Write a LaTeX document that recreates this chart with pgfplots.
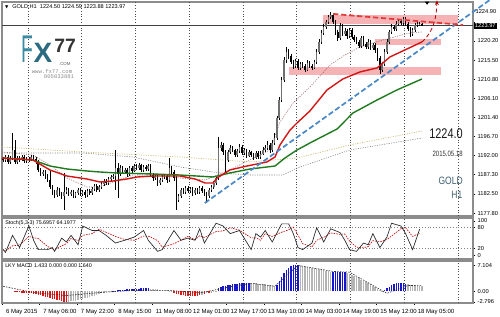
\documentclass[border=0pt]{standalone}
\usepackage{pgfplots}
\pgfplotsset{compat=1.18}
\usepackage{pgfplotstable}
\usepackage{fontspec}
\setmainfont{Liberation Sans}
\newfontfamily\dejavu{DejaVu Sans}
\newfontfamily\lmono{Liberation Mono}
\usetikzlibrary{arrows.meta}

\definecolor{framegray}{HTML}{8C8C8C}
\definecolor{pinkbox}{HTML}{F5B3B6}
\definecolor{maRed}{HTML}{D41515}
\definecolor{maGreen}{HTML}{1F7A1F}
\definecolor{trendBlue}{HTML}{4A88C8}
\definecolor{trendRed}{HTML}{E03A3A}
\definecolor{macdRed}{HTML}{E01515}
\definecolor{macdGray}{HTML}{B4B4B4}
\definecolor{macdBlue}{HTML}{1515D0}
\definecolor{logoTeal}{HTML}{3C8BA3}
\definecolor{logoTealDark}{HTML}{2C6A80}
\definecolor{slate}{HTML}{3E5E6E}
\definecolor{oliveDot}{HTML}{C8BC70}
\definecolor{candleBull}{HTML}{707070}

\pgfplotstableread{
i O C hx lx
0 1191.2 1190.9 0.5 0.5
1 1190.9 1191.6 0.5 0.5
2 1191.6 1190.4 0.6 0.5
3 1190.4 1191.4 0.5 0.6
4 1191.4 1193.3 4.2 0.5
5 1193.3 1190.4 2.5 0.6
6 1190.4 1191.4 0.5 0.5
7 1191.4 1190.9 0.4 0.5
8 1190.9 1191.6 0.5 0.4
9 1191.6 1190.6 0.4 0.5
10 1190.6 1191.1 0.5 0.4
11 1191.1 1190.9 0.5 0.5
12 1190.9 1191.6 0.4 0.4
13 1191.6 1191.1 0.5 0.5
14 1191.1 1190.4 0.4 0.6
15 1190.4 1188.4 0.5 0.6
16 1188.4 1187.4 0.4 0.5
17 1187.4 1187.9 0.5 0.4
18 1187.9 1186.9 0.4 0.6
19 1186.9 1185.9 0.5 0.5
20 1185.9 1184.2 2.5 0.6
21 1184.2 1183.0 0.5 0.7
22 1183.0 1182.2 0.5 0.8
23 1182.2 1183.5 0.6 0.5
24 1183.5 1182.5 0.5 0.6
25 1182.5 1182.0 0.5 0.7
26 1182.0 1183.0 4.7 3.5
27 1183.0 1183.5 0.6 0.5
28 1183.5 1182.5 0.5 0.6
29 1182.5 1183.0 0.5 0.5
30 1183.0 1182.0 0.5 0.6
31 1182.0 1182.7 0.4 0.5
32 1182.7 1183.5 0.5 0.4
33 1183.5 1182.5 0.4 0.5
34 1182.5 1183.0 0.5 0.5
35 1183.0 1182.2 0.4 0.6
36 1182.2 1183.2 0.5 0.4
37 1183.2 1182.7 0.4 0.5
38 1182.7 1183.7 0.5 0.4
39 1183.7 1184.5 0.5 0.4
40 1184.5 1183.5 0.4 0.5
41 1183.5 1184.2 0.5 0.4
42 1184.2 1185.0 0.5 0.4
43 1185.0 1185.7 0.5 0.5
44 1185.7 1185.2 0.4 0.5
45 1185.2 1186.2 0.5 0.4
46 1186.2 1186.7 0.5 0.5
47 1186.7 1186.9 0.5 0.5
48 1186.9 1188.9 4.4 3.4
49 1188.9 1187.4 1.2 5.9
50 1187.4 1188.9 0.7 0.5
51 1188.9 1187.9 0.5 0.6
52 1187.9 1188.4 0.5 0.5
53 1188.4 1187.4 0.4 0.6
54 1187.4 1188.9 0.6 0.4
55 1188.9 1188.2 0.5 0.5
56 1188.2 1189.4 0.6 0.4
57 1189.4 1188.9 0.4 0.5
58 1188.9 1189.6 0.6 0.4
59 1189.6 1188.4 0.4 0.6
60 1188.4 1189.2 0.5 0.4
61 1189.2 1188.7 0.4 0.5
62 1188.7 1189.4 0.5 0.5
63 1189.4 1187.2 0.4 0.6
64 1187.2 1186.4 0.5 0.6
65 1186.4 1186.9 0.5 0.5
66 1186.9 1185.2 0.4 0.7
67 1185.2 1185.9 0.5 0.5
68 1185.9 1186.7 0.5 0.4
69 1186.7 1186.9 0.5 0.5
70 1186.9 1185.9 0.4 0.6
71 1185.9 1188.9 2.5 0.5
72 1188.9 1187.9 0.5 0.6
73 1187.9 1186.4 0.4 0.7
74 1186.4 1181.0 0.5 2.5
75 1181.0 1182.0 0.6 0.6
76 1182.0 1183.5 0.5 0.5
77 1183.5 1183.0 0.4 0.5
78 1183.0 1184.0 0.5 0.4
79 1184.0 1183.2 0.4 0.5
80 1183.2 1183.7 0.5 0.4
81 1183.7 1182.7 0.4 0.6
82 1182.7 1183.5 0.5 0.4
83 1183.5 1183.0 0.4 0.5
84 1183.0 1184.0 0.5 0.4
85 1184.0 1183.2 0.4 0.5
86 1183.2 1182.7 0.4 0.6
87 1182.7 1182.0 0.4 1.7
88 1182.0 1183.5 0.5 0.5
89 1183.5 1184.2 0.5 0.4
90 1184.2 1185.2 0.6 0.4
91 1185.2 1186.4 0.6 0.5
92 1186.4 1193.8 2.7 0.5
93 1193.8 1194.6 0.8 0.6
94 1194.6 1192.8 0.5 0.7
95 1192.8 1190.9 0.5 3.0
96 1190.9 1192.8 0.6 0.5
97 1192.8 1193.8 0.7 0.5
98 1193.8 1193.3 0.5 0.5
99 1193.3 1192.1 0.4 0.6
100 1192.1 1193.1 0.6 0.4
101 1193.1 1194.1 0.6 0.5
102 1194.1 1192.6 0.4 0.6
103 1192.6 1193.3 0.5 0.5
104 1193.3 1191.9 0.4 0.6
105 1191.9 1192.8 0.5 0.4
106 1192.8 1192.1 0.4 0.5
107 1192.1 1191.4 0.5 0.5
108 1191.4 1192.6 0.5 0.4
109 1192.6 1191.6 0.4 0.5
110 1191.6 1192.4 0.6 0.4
111 1192.4 1193.3 0.7 0.4
112 1193.3 1193.8 0.8 0.5
113 1193.8 1194.6 1.0 0.5
114 1194.6 1193.3 0.5 0.6
115 1193.3 1195.1 0.8 0.5
116 1195.1 1196.3 1.2 0.6
117 1196.3 1201.2 0.6 0.5
118 1201.2 1205.7 0.6 0.5
119 1205.7 1210.6 0.7 0.5
120 1210.6 1215.5 0.8 0.6
121 1215.5 1217.5 1.2 0.7
122 1217.5 1216.5 0.6 0.7
123 1216.5 1215.0 0.5 0.6
124 1215.0 1214.0 0.6 0.7
125 1214.0 1215.3 0.5 0.5
126 1215.3 1213.6 0.4 0.6
127 1213.6 1214.5 0.5 0.5
128 1214.5 1214.0 0.5 0.5
129 1214.0 1213.1 0.5 0.6
130 1213.1 1214.8 0.6 0.4
131 1214.8 1214.0 0.5 0.5
132 1214.0 1213.6 0.5 0.5
133 1213.6 1215.0 0.6 0.4
134 1215.0 1217.5 0.6 0.5
135 1217.5 1220.0 0.6 0.5
136 1220.0 1222.2 0.6 0.5
137 1222.2 1223.7 0.6 0.5
138 1223.7 1224.9 0.5 0.6
139 1224.9 1226.1 0.5 0.6
140 1226.1 1226.6 0.75 0.6
141 1226.6 1224.9 0.5 0.6
142 1224.9 1222.4 0.5 0.7
143 1222.4 1220.9 0.6 0.6
144 1220.9 1223.9 0.8 0.5
145 1223.9 1221.9 0.5 0.6
146 1221.9 1222.7 0.6 0.5
147 1222.7 1221.4 0.5 0.6
148 1221.4 1222.9 0.6 0.5
149 1222.9 1221.2 0.5 0.6
150 1221.2 1220.5 0.5 0.6
151 1220.5 1220.0 0.6 0.6
152 1220.0 1219.0 0.5 0.6
153 1219.0 1220.9 0.6 0.5
154 1220.9 1219.5 0.5 0.6
155 1219.5 1218.7 0.5 0.6
156 1218.7 1220.0 0.6 0.5
157 1220.0 1218.5 0.5 0.6
158 1218.5 1219.2 0.6 0.5
159 1219.2 1218.0 0.5 0.7
160 1218.0 1216.0 0.5 0.7
161 1216.0 1213.1 0.5 1.0
162 1213.1 1214.5 0.6 0.6
163 1214.5 1217.5 0.7 0.5
164 1217.5 1220.0 0.6 0.5
165 1220.0 1222.4 0.6 0.5
166 1222.4 1223.7 0.6 0.5
167 1223.7 1223.2 0.5 0.5
168 1223.2 1224.4 0.6 0.5
169 1224.4 1225.1 0.6 0.5
170 1225.1 1224.6 0.5 0.5
171 1224.6 1225.6 0.5 0.6
172 1225.6 1224.4 0.4 0.6
173 1224.4 1223.2 0.5 0.6
174 1223.2 1221.9 0.5 0.7
175 1221.9 1222.9 0.6 0.5
176 1222.9 1224.2 0.5 0.5
177 1224.2 1224.4 0.5 0.5
178 1224.4 1224.5 0.4 0.5
179 1224.5 1223.97 0.09 0.09
}\candles

\pgfplotstableread{
i p
-0.5 1191.36
12.7 1190.87
20.0 1188.41
27.3 1186.92
35.8 1186.19
41.4 1185.45
46.9 1185.69
52.9 1186.19
57.2 1186.68
64.0 1186.92
75.6 1186.92
82.0 1186.19
86.3 1185.20
89.7 1185.20
91.4 1186.43
96.9 1188.41
104.2 1189.39
112.7 1190.38
116.2 1191.61
118.3 1194.57
122.6 1198.26
125.6 1200.00
131.1 1202.95
138.4 1208.13
145.2 1210.84
152.5 1212.56
159.8 1213.55
165.3 1216.26
172.6 1218.23
179.0 1219.96
}\maRedT

\pgfplotstableread{
i p
-0.5 1191.36
12.7 1190.87
20.0 1189.39
27.3 1188.65
35.8 1188.16
41.4 1187.91
48.6 1187.67
64.0 1187.42
75.6 1187.17
89.7 1186.68
96.9 1187.67
105.5 1188.65
116.2 1189.39
120.4 1191.36
125.6 1193.34
131.1 1195.06
142.7 1198.51
149.5 1202.45
159.8 1205.66
168.3 1208.13
179.0 1210.84
}\maGreenT

\pgfplotstableread{
i p
-0.5 1192.84
12.7 1192.10
20.0 1189.64
27.3 1186.43
35.8 1184.21
41.4 1184.21
46.9 1185.45
55.5 1187.17
65.7 1187.17
75.6 1186.43
86.3 1185.94
94.8 1187.91
105.5 1190.87
114.0 1193.34
118.3 1200.20
123.9 1204.92
131.1 1208.87
139.7 1214.29
146.1 1216.75
152.5 1218.72
162.3 1220.45
173.9 1222.18
179.0 1222.42
}\maFastT

\pgfplotstableread{
i p
-0.5 1192.60
34.1 1192.60
55.5 1191.61
75.6 1189.15
92.7 1187.67
105.5 1187.17
119.6 1187.17
125.6 1188.90
148.2 1193.34
179.0 1196.29
}\maSlowT

\pgfplotstableread{
i p
-0.5 1194.07
34.1 1192.84
75.6 1191.61
105.5 1190.38
125.6 1191.36
148.2 1194.57
179.0 1198.02
}\maYellowT

\pgfplotstableread{
i k d
0 17 17
1 9 13
4 58 28
7 23 30
11 85 55
13 44 51
15 17 49
19 17 26
21 23 19
22 12 17
25 50 28
27 39 34
29 58 49
32 31 43
34 85 58
38 72 63
41 72 76
44 58 67
48 36 55
52 44 46
56 53 44
60 72 56
62 44 56
66 12 43
68 17 24
73 72 34
76 44 44
79 50 55
82 44 46
84 77 57
86 36 52
91 93 69
94 85 71
97 63 80
101 72 73
106 17 51
108 63 51
110 53 44
112 72 63
115 39 55
119 91 67
122 91 74
124 63 82
126 23 59
128 17 34
132 36 25
134 80 44
137 39 52
140 77 65
144 66 61
146 44 62
148 17 42
151 12 24
154 36 22
156 31 26
158 63 43
161 23 39
164 53 46
166 93 56
170 85 77
172 63 80
175 17 55
178 76 64
}\stochT

\pgfplotstableread{
i v
5 -0.15
6 -0.2
7 -0.25
8 -0.3
9 -0.35
10 -0.4
11 -0.45
12 -0.5
13 -0.55
14 -0.7
15 -0.85
16 -1.0
17 -1.2
18 -1.4
19 -1.6
20 -1.8
21 -1.95
22 -2.1
23 -2.25
24 -2.4
25 -2.55
26 -2.7
27 -2.8
73 -0.3
74 -0.6
75 -0.8
76 -0.9
77 -1.0
78 -1.1
79 -1.2
80 -1.2
81 -1.25
82 -1.2
83 -1.1
84 -1.0
86 -0.6
88 -0.4
}\macdRedT

\pgfplotstableread{
i v
28 -2.75
29 -2.65
30 -2.55
31 -2.45
32 -2.3
33 -2.15
34 -2.0
35 -1.85
36 -1.7
37 -1.5
38 -1.3
39 -1.1
40 -0.9
41 -0.7
42 -0.5
43 -0.35
44 -0.2
45 -0.1
46 0.05
63 0.8
64 0.75
65 0.7
66 0.6
67 0.5
68 0.45
69 0.35
70 0.3
71 0.2
72 0.1
85 -0.9
87 -0.5
89 -0.3
90 -0.2
91 -0.1
106 2.3
107 2.2
108 2.2
109 2.1
110 2.0
111 2.0
112 1.9
113 1.8
114 1.8
115 1.7
116 1.6
127 7.0
128 6.9
129 6.8
130 6.7
131 6.6
132 6.4
133 6.3
134 6.1
135 6.0
136 5.9
137 5.7
138 5.6
139 5.4
140 5.3
147 5.0
148 4.7
149 4.4
150 4.1
151 3.8
152 3.5
153 3.2
154 2.9
155 2.5
156 2.2
157 1.9
158 1.5
159 1.2
160 0.8
161 0.5
162 0.2
173 1.9
174 1.8
175 1.7
176 1.6
177 1.5
178 1.45
179 1.43
}\macdGrayT

\pgfplotstableread{
i v
47 0.1
48 0.2
49 0.3
50 0.35
51 0.45
52 0.5
53 0.55
54 0.6
55 0.65
56 0.7
57 0.75
58 0.8
59 0.85
60 0.9
61 0.9
62 0.85
92 1.0
93 1.3
94 1.5
95 1.6
96 1.7
97 1.8
98 1.9
99 2.0
100 2.1
101 2.2
102 2.3
103 2.35
104 2.4
105 2.4
117 1.8
118 2.8
119 4.0
120 5.0
121 5.8
122 6.4
123 6.8
124 7.0
125 7.1
126 7.1
141 5.2
142 5.25
143 5.3
144 5.3
145 5.25
146 5.2
163 0.4
164 0.9
165 1.3
166 1.7
167 2.0
168 2.2
169 2.3
170 2.3
171 2.2
172 2.0
}\macdBlueT

\pgfplotstableread{
i s
0 1.4
13 -0.3
27 -1.1
41 -0.3
56 0.3
70 0.3
85 -0.3
98 1.4
106 2.2
116 1.4
126 7.0
141 5.4
148 5.2
164 -0.5
173 1.6
179 1.64
}\macdSigT

\pgfplotsset{
  mtpanel/.style={
    scale only axis, width=353.25pt,
    xmin=-0.5, xmax=200.8,
    axis line style={framegray, line width=0.9pt},
    tick align=outside, major tick length=1.5pt,
    ytick pos=right, yticklabel pos=right,
    ytick style={black, line width=0.35pt},
    yticklabel style={font=\fontsize{4.3}{5}\selectfont, xshift=-1.5pt},
  },
  gridx/.style={
    extra x ticks={10.6,33.57,56.54,79.51,102.48,125.45,148.42,171.39,194.36},
    extra x tick labels={},
    extra x tick style={grid=major, major tick length=0pt},
    major x grid style={black!70, line width=0.35pt, dash pattern=on 0.6pt off 1.5pt},
  },
}

\begin{document}
\begin{tikzpicture}
\useasboundingbox (0,0) rectangle (375pt,-237.75pt);

%% ---------------- main price panel ----------------
\begin{axis}[mtpanel, gridx,
  at={(1.5pt,-1.5pt)}, anchor=north west, height=160.5pt,
  ymin=1177.07, ymax=1229.8,
  xtick=\empty,
  ytick={1224.9,1220.2,1215.5,1210.8,1206.1,1201.4,1196.7,1192.0,1187.3,1182.55,1177.8},
  yticklabels={,1220.20,1215.50,1210.80,1206.10,1201.40,1196.70,1192.00,1187.30,1182.50,1177.80},
  clip=false]
  % zones
  \fill[pinkbox] (axis cs:136.7,1224.39) rectangle (axis cs:194.4,1226.61);
  \fill[pinkbox] (axis cs:158.9,1219.2) rectangle (axis cs:187.1,1220.7);
  \fill[pinkbox] (axis cs:122.1,1211.8) rectangle (axis cs:187.1,1213.8);
  % current price line
  \draw[black!75, line width=0.4pt] (axis cs:-0.5,1223.97) -- (axis cs:200.8,1223.97);
  % slow dotted MAs
  \addplot[oliveDot, line width=0.5pt, dash pattern=on 0.8pt off 1pt, forget plot] table[x=i,y=p]{\maYellowT};
  \addplot[gray, line width=0.45pt, dash pattern=on 0.8pt off 1pt, forget plot] table[x=i,y=p]{\maSlowT};
  \addplot[gray!80!red, line width=0.45pt, dash pattern=on 0.8pt off 1pt, forget plot] table[x=i,y=p]{\maFastT};
  % candle wicks
  \addplot[draw=none, mark=none, forget plot, error bars/.cd, y dir=minus, y explicit, error mark=none,
     error bar style={black, line width=0.4pt}]
     table[x=i, y expr={max(\thisrow{O},\thisrow{C})+\thisrow{hx}},
           y error minus expr={abs(\thisrow{O}-\thisrow{C})+\thisrow{hx}+\thisrow{lx}}]{\candles};
  % bull bodies
  \addplot[draw=none, mark=none, forget plot,
     restrict expr to domain={\thisrow{C}-\thisrow{O}}{0:1000},
     error bars/.cd, y dir=minus, y explicit, error mark=none,
     error bar style={candleBull, line width=1.15pt}]
     table[x=i, y=C, y error minus expr={max(\thisrow{C}-\thisrow{O},0.15)}]{\candles};
  % bear bodies
  \addplot[draw=none, mark=none, forget plot,
     restrict expr to domain={\thisrow{O}-\thisrow{C}}{0.001:1000},
     error bars/.cd, y dir=minus, y explicit, error mark=none,
     error bar style={black, line width=1.15pt}]
     table[x=i, y=O, y error minus expr={max(\thisrow{O}-\thisrow{C},0.15)}]{\candles};
  % main MAs
  \addplot[maGreen, line width=1.05pt, forget plot] table[x=i,y=p]{\maGreenT};
  \addplot[maRed, line width=1.05pt, forget plot] table[x=i,y=p]{\maRedT};
  % trend lines
  \draw[trendBlue, line width=1.3pt, dash pattern=on 4pt off 2pt] (axis cs:86.2,1180.27) -- (axis cs:208.0,1230.31);
  \draw[trendRed, line width=1.3pt, dash pattern=on 4pt off 2pt] (axis cs:141.0,1226.86) -- (axis cs:196.6,1224.15);
  \draw[red!70!black, line width=0.6pt, densely dashed, -{Stealth[length=3.5pt,width=3pt]}]
     (axis cs:179,1219.96) .. controls (axis cs:184,1222.5) and (axis cs:185.2,1226) .. (axis cs:185.4,1230.2);
  % texts
  \node[anchor=east, inner sep=0pt, xscale=0.78, text=black!90, font=\fontsize{10.5}{11}\selectfont] at (axis cs:196.5,1197.4) {1224.0};
  \node[anchor=east, inner sep=0pt, xscale=0.78, text=black!80, font=\fontsize{5.8}{7}\selectfont] at (axis cs:196.5,1192.47) {2015.05.18};
  \node[anchor=east, inner sep=0pt, xscale=0.8, text=slate, font=\fontsize{8}{9}\selectfont] at (axis cs:196.5,1185.7) {GOLD};
  \node[anchor=east, inner sep=0pt, xscale=0.8, text=slate, font=\fontsize{8}{9}\selectfont] at (axis cs:196.3,1182.2) {H1};
\end{axis}

%% ---------------- stochastic panel ----------------
\begin{axis}[mtpanel, gridx,
  at={(1.5pt,-163.5pt)}, anchor=north west, height=30.75pt,
  ymin=-10, ymax=108,
  xtick=\empty,
  ytick={0,20,80,100}, yticklabels={0,20,80,100}]
  \draw[gray, line width=0.35pt, dash pattern=on 0.6pt off 1.5pt] (axis cs:-0.5,20) -- (axis cs:200.8,20);
  \draw[gray, line width=0.35pt, dash pattern=on 0.6pt off 1.5pt] (axis cs:-0.5,80) -- (axis cs:200.8,80);
  \addplot[red!75!black, line width=0.45pt, dash pattern=on 1.2pt off 0.8pt, forget plot] table[x=i,y=d]{\stochT};
  \addplot[black!85, line width=0.5pt, forget plot] table[x=i,y=k]{\stochT};
\end{axis}

%% ---------------- MACD panel ----------------
\begin{axis}[mtpanel, gridx,
  at={(1.5pt,-195.75pt)}, anchor=north west, height=31.5pt,
  ymin=-3.1, ymax=8.2,
  xtick={-0.5,15.5,31.5,47.5,63.5,79.5,95.5,111.5,127.5,143.5,159.5,175.5},
  xticklabels={6 May 2015,7 May 06:00,7 May 22:00,8 May 15:00,11 May 08:00,12 May 01:00,12 May 17:00,13 May 10:00,14 May 03:00,14 May 19:00,15 May 12:00,18 May 05:00},
  xtick pos=left,
  xtick style={black, line width=0.35pt},
  xticklabel style={font=\fontsize{4.5}{5}\selectfont, anchor=north west, xshift=-0.5pt, yshift=0.5pt},
  ytick={-2.796,0,7.104}, yticklabels={-2.796,0.00,7.104}]
  \addplot[ycomb, macdRed, line width=1.1pt, mark=none, forget plot] table[x=i,y=v]{\macdRedT};
  \addplot[ycomb, macdGray, line width=1.1pt, mark=none, forget plot] table[x=i,y=v]{\macdGrayT};
  \addplot[ycomb, macdBlue, line width=1.1pt, mark=none, forget plot] table[x=i,y=v]{\macdBlueT};
  \addplot[black!80, line width=0.45pt, dash pattern=on 1.2pt off 0.9pt, forget plot] table[x=i,y=s]{\macdSigT};
\end{axis}

%% ---------------- overlays ----------------
% header
\node[anchor=west, inner sep=0pt, font=\dejavu\fontsize{3.2}{4}\selectfont] at (3.6pt,-5.25pt) {▼};
\node[anchor=west, inner sep=0pt, font=\fontsize{4.2}{5}\selectfont] at (9pt,-5.25pt) {GOLD,H1\ \ 1224.50 1224.59 1223.88 1223.97};
% current price box
\node[anchor=west, fill=black, text=white, inner xsep=0.8pt, inner ysep=0.9pt, font=\fontsize{4.3}{5}\selectfont] at (355.2pt,-19.3pt) {1223.97};
\node[anchor=west, inner sep=0pt, font=\fontsize{4.3}{5}\selectfont] at (356.5pt,-9pt) {1224.90};
% shift marker
\fill[black] (318.6pt,-1.2pt) -- (322pt,-1.2pt) -- (320.3pt,-3.6pt) -- cycle;
% logo
\node[inner sep=0pt, text=logoTeal, xscale=0.5, font=\fontsize{29}{29}\selectfont] at (20.4pt,-37pt) {F};
\node[inner sep=0pt, text=logoTealDark, font=\bfseries\fontsize{21}{21}\selectfont] at (32.2pt,-39.8pt) {X};
\node[inner sep=0pt, text=black!80, font=\bfseries\fontsize{14.5}{15}\selectfont] at (48.8pt,-34.6pt) {77};
\node[inner sep=0pt, text=black!65, font=\fontsize{3.3}{4}\selectfont] at (48.6pt,-48.2pt) {.COM};
\node[inner sep=0pt, text=black!45, font=\lmono\fontsize{4.2}{5}\selectfont] at (39pt,-53.4pt) {www.fx77.com};
\node[inner sep=0pt, text=black!45, font=\lmono\fontsize{4.2}{5}\selectfont] at (44.3pt,-57.8pt) {005033881};
% indicator titles
\node[anchor=west, inner sep=0pt, font=\fontsize{4}{5}\selectfont] at (3.75pt,-167.6pt) {Stoch(5,3,3) 75.6957 64.1977};
\node[anchor=west, inner sep=0pt, font=\fontsize{4}{5}\selectfont] at (3.75pt,-199.1pt) {LKY MACD 1.433 0.000 0.000 1.640};
\end{tikzpicture}
\end{document}
